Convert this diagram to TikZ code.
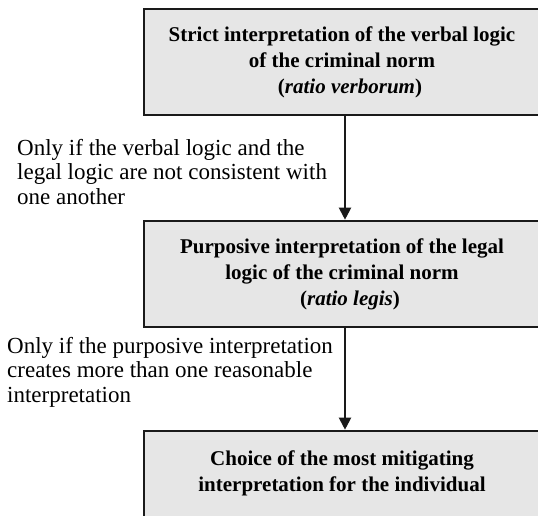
\documentclass[tikz,border=0pt]{standalone}
\usepackage{fontspec}
\setmainfont{Liberation Serif}
\usetikzlibrary{arrows.meta}
\definecolor{boxfill}{HTML}{E6E6E6}
\definecolor{boxline}{HTML}{1A1A1A}
\tikzset{
  stagebox/.style={draw=boxline, fill=boxfill, line width=2.6pt,
    minimum width=396pt, minimum height=106pt, align=center,
    font=\fontsize{21}{26}\selectfont\bfseries, inner sep=0pt},
  condition/.style={align=left, anchor=base west, inner sep=0pt,
    font=\fontsize{23}{24.5}\selectfont},
  flow/.style={line width=2pt, draw=boxline,
    -{Triangle[width=12pt,length=12pt]}}
}
\begin{document}
\begin{tikzpicture}[x=1pt,y=-1pt]
  \useasboundingbox (0,0) rectangle (538,516);
  \clip (0,0) rectangle (538,516);
  \fill[white] (0,0) rectangle (538,516);

  % the three interpretation stages
  \node[stagebox] (strict) at (342,62)
    {Strict interpretation of the verbal logic\\
     of the criminal norm\\
     \hspace*{16pt}(\textit{ratio verborum})};
  \node[stagebox] (purposive) at (342,274)
    {Purposive interpretation of the legal\\
     logic of the criminal norm\\
     \hspace*{16pt}(\textit{ratio legis})};
  \node[stagebox] (mitigating) at (342,484)
    {Choice of the most mitigating\\
     interpretation for the individual\\
     \mbox{}};

  % conditions for moving to the next stage (placed by last baseline)
  \node[condition] (cond1) at (17,204)
    {Only if the verbal logic and the\\
     legal logic are not consistent with\\
     one another};
  \node[condition] (cond2) at (7,402)
    {Only if the purposive interpretation\\
     creates more than one reasonable\\
     interpretation};

  \coordinate (a1) at (345,0);
  \draw[flow] (strict.south -| a1) -- (purposive.north -| a1);
  \draw[flow] (purposive.south -| a1) -- (mitigating.north -| a1);
\end{tikzpicture}
\end{document}
